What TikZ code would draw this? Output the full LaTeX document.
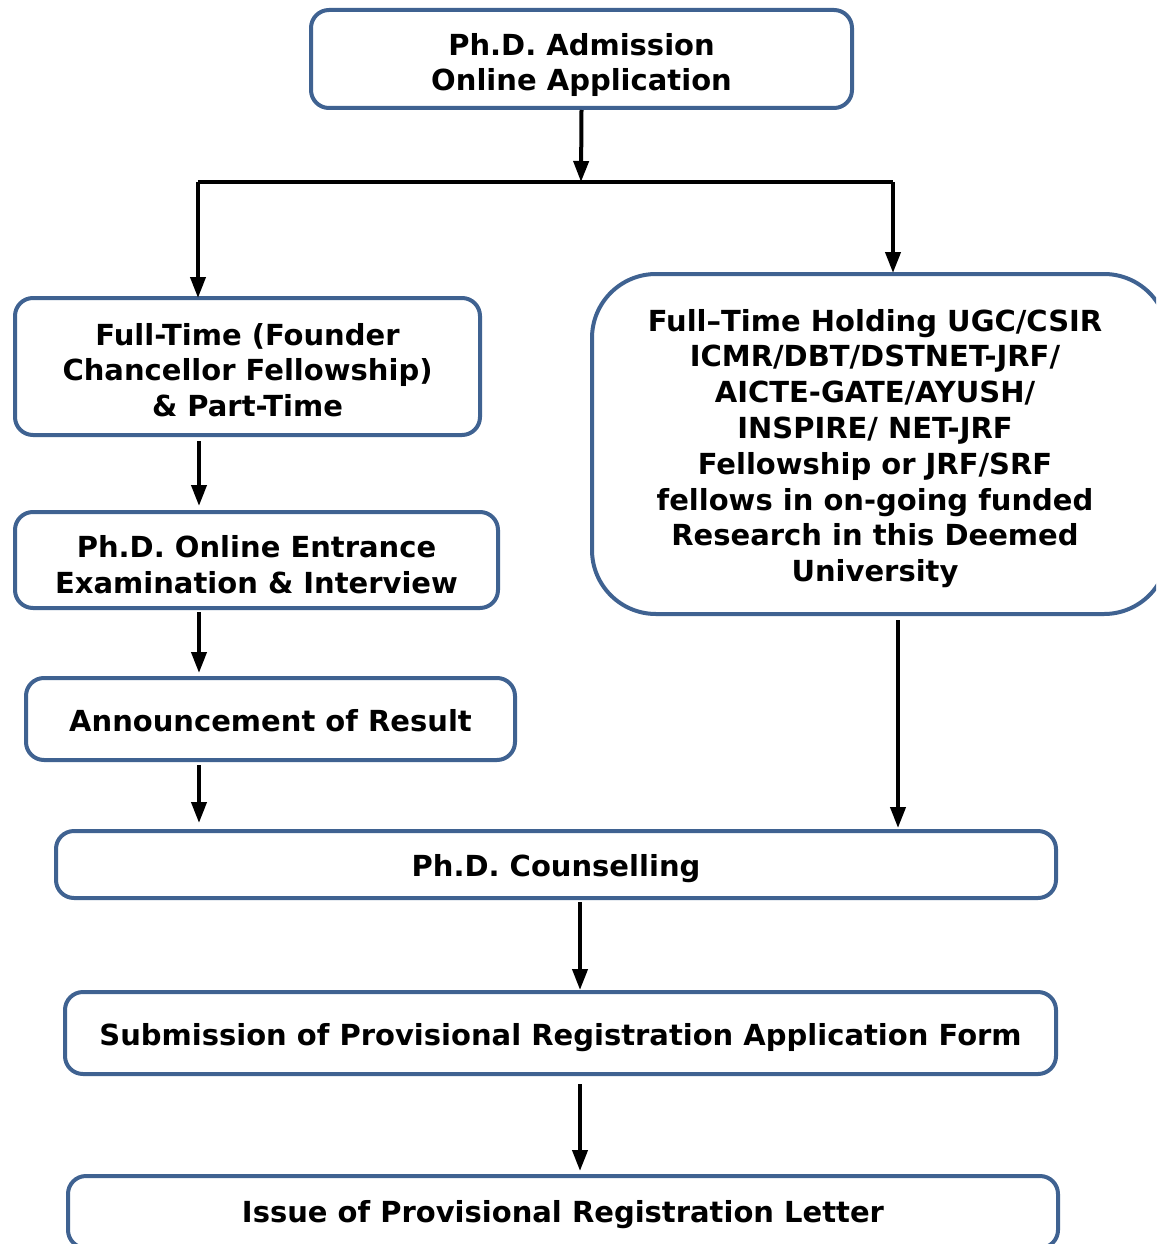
\documentclass[tikz,border=0pt]{standalone}
\usepackage{fontspec}
\setmainfont{DejaVu Sans}
\usetikzlibrary{arrows.meta}
\definecolor{boxblue}{HTML}{3F6291}
\begin{document}
\begin{tikzpicture}[x=1pt,y=-1pt,
  box/.style={draw=boxblue,line width=4pt,rounded corners=18pt,fill=white,inner sep=0pt},
  txt/.style={align=center,inner sep=0pt,
    font=\fontsize{29}{35.8}\selectfont\bfseries},
  arr/.style={line width=4pt,-{Triangle[width=15pt,length=21pt]}}]
\clip (0,0) rectangle (1156,1244);
\fill[white] (0,0) rectangle (1156,1244);
% boxes
\node[box,minimum width=541pt,minimum height=98pt] (top) at (581.5,59) {};
\node[box,minimum width=465pt,minimum height=137pt] (ft) at (247.5,366.5) {};
\node[box,rounded corners=64pt,minimum width=576pt,minimum height=340pt] (fellow) at (880,444) {};
\node[box,minimum width=483pt,minimum height=96pt] (exam) at (256.5,560) {};
\node[box,minimum width=489pt,minimum height=82pt] (result) at (270.5,719) {};
\node[box,minimum width=1000pt,minimum height=67pt] (couns) at (556,864.5) {};
\node[box,minimum width=991pt,minimum height=82pt] (subm) at (560.5,1033) {};
\node[box,minimum width=990pt,minimum height=72pt] (issue) at (563,1212) {};
% texts
\node[txt] (topt) at ([yshift=-6pt]top.center) {Ph.D. Admission\\Online Application};
\node[txt] (ftt) at ([yshift=-3.5pt]ft.center) {Full-Time (Founder\\Chancellor Fellowship)\\\& Part-Time};
\node[txt] (fellowt) at ([xshift=-5pt,yshift=-4.5pt]fellow.center) {Full–Time Holding UGC/CSIR\\ICMR/DBT/DSTNET-JRF/\\AICTE-GATE/AYUSH/\\INSPIRE/ NET-JRF\\Fellowship or JRF/SRF\\fellows in on-going funded\\Research in this Deemed\\University};
\node[txt] (examt) at ([yshift=-4.5pt]exam.center) {Ph.D. Online Entrance\\Examination \& Interview};
\node[txt] (resultt) at ([yshift=-1.5pt]result.center) {Announcement of Result};
\node[txt] (counst) at ([yshift=-4pt]couns.center) {Ph.D. Counselling};
\node[txt] (submt) at ([yshift=-5pt]subm.center) {Submission of Provisional Registration Application Form};
\node[txt] (issuet) at ([yshift=-3pt]issue.center) {Issue of Provisional Registration Letter};
% connectors
\coordinate (j) at (581,182);
\coordinate (jl) at (198,182);
\coordinate (jr) at (893,182);
\coordinate (lx) at (199,0);
\coordinate (rx) at (898,0);
\coordinate (mx) at (580,0);
\draw[arr] (top.south) -- (j);
\draw[line width=4pt] (jl) -- (jr);
\draw[arr] (jl) -- ([yshift=-2pt]jl |- ft.north);
\draw[arr] (jr) -- ([yshift=-1pt]jr |- fellow.north);
\draw[arr,shorten <=4pt,shorten >=4pt] (lx |- ft.south) -- (lx |- exam.north);
\draw[arr,shorten <=2pt,shorten >=3pt] (lx |- exam.south) -- (lx |- result.north);
\draw[arr,shorten <=3pt,shorten >=6pt] (lx |- result.south) -- (lx |- couns.north);
\draw[arr,shorten <=4pt,shorten >=1pt] (rx |- fellow.south) -- (rx |- couns.north);
\draw[arr,shorten <=2pt] (mx |- couns.south) -- (mx |- subm.north);
\draw[arr,shorten <=8pt,shorten >=3pt] (mx |- subm.south) -- (mx |- issue.north);
\end{tikzpicture}
\end{document}
